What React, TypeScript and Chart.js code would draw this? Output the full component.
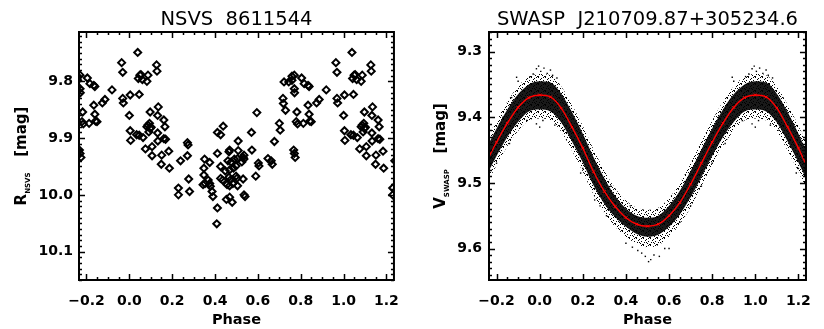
import React, { useEffect, useRef } from 'react';
import { Chart, registerables } from 'chart.js';

Chart.register(...registerables);

// ---------- axis ranges / ticks ----------
const phaseMin = -0.235;
const phaseMax = 1.235;
const phaseTicks = [-0.2, 0.0, 0.2, 0.4, 0.6, 0.8, 1.0, 1.2];
const nsvsYTicks = [9.8, 9.9, 10.0, 10.1];
const nsvsYRange = [9.713, 10.15];
const swaspYTicks = [9.3, 9.4, 9.5, 9.6];
const swaspYRange = [9.27, 9.648];

// ---------- NSVS 8611544 (phase 0..1, shown folded over -0.23..1.23) ----------
const nsvsPhase = [
  0.000, 0.004, 0.004, 0.006, 0.034, 0.039, 0.042, 0.046, 0.046, 0.049,
  0.054, 0.061, 0.064, 0.075, 0.082, 0.082, 0.087, 0.087, 0.091, 0.094,
  0.097, 0.097, 0.102, 0.106, 0.106, 0.127, 0.129, 0.132, 0.132, 0.133,
  0.135, 0.149, 0.151, 0.161, 0.161, 0.166, 0.169, 0.184, 0.187, 0.229,
  0.229, 0.239, 0.271, 0.274, 0.271, 0.277, 0.281, 0.344, 0.348, 0.348,
  0.351, 0.353, 0.368, 0.375, 0.375, 0.378, 0.386, 0.390, 0.408, 0.411,
  0.411, 0.411, 0.426, 0.426, 0.426, 0.435, 0.438, 0.448, 0.453, 0.456,
  0.460, 0.465, 0.465, 0.468, 0.468, 0.468, 0.468, 0.471, 0.475, 0.480,
  0.483, 0.486, 0.490, 0.498, 0.498, 0.502, 0.505, 0.505, 0.508, 0.508,
  0.525, 0.531, 0.531, 0.535, 0.535, 0.535, 0.540, 0.570, 0.572, 0.590,
  0.595, 0.602, 0.605, 0.647, 0.662, 0.667, 0.677, 0.700, 0.704, 0.717,
  0.719, 0.722, 0.729, 0.744, 0.759, 0.759, 0.767, 0.770, 0.774, 0.770,
  0.770, 0.771, 0.779, 0.782, 0.785, 0.804, 0.812, 0.816, 0.834, 0.834,
  0.839, 0.839, 0.842, 0.849, 0.874, 0.886, 0.919, 0.964, 0.969, 0.969,
  0.972,
];
const nsvsMag = [
  9.860, 9.824, 9.887, 9.904, 9.894, 9.749, 9.795, 9.823, 9.895, 9.789,
  9.788, 9.797, 9.899, 9.919, 9.800, 9.880, 9.789, 9.877, 9.889, 9.874,
  9.854, 9.883, 9.881, 9.915, 9.931, 9.771, 9.782, 9.860, 9.891, 9.905,
  9.845, 9.946, 9.930, 9.868, 9.901, 9.880, 9.902, 9.923, 9.953, 9.988,
  10.000, 9.940, 9.908, 9.912, 9.931, 9.972, 9.994, 9.982, 9.953, 9.965,
  9.937, 9.980, 9.974, 9.943, 9.980, 9.985, 9.994, 10.003, 10.051, 9.890,
  9.927, 10.023, 9.894, 9.950, 9.971, 9.974, 9.879, 9.958, 10.008, 9.982,
  9.940, 9.924, 9.969, 9.921, 9.956, 9.984, 10.004, 9.974, 9.942, 10.013,
  9.980, 9.953, 9.937, 9.949, 9.967, 9.971, 9.936, 9.984, 9.905, 9.922,
  9.942, 9.934, 9.972, 9.930, 9.937, 10.000, 10.003, 9.890, 9.921, 9.967,
  9.855, 9.944, 9.949, 9.936, 9.940, 9.946, 9.906, 9.874, 9.886, 9.830,
  9.839, 9.801, 9.851, 9.801, 9.791, 9.798, 9.921, 9.927, 9.934, 9.789,
  9.813, 9.820, 9.871, 9.854, 9.875, 9.794, 9.874, 9.804, 9.807, 9.842,
  9.809, 9.858, 9.870, 9.871, 9.838, 9.832, 9.815, 9.767, 9.784, 9.830,
  9.838,
];

// ---------- SWASP J210709.87+305234.6 (binned, phase 0..1) ----------
const swaspBinPhase = [
  0.00, 0.05, 0.10, 0.15, 0.20, 0.25, 0.30, 0.35, 0.40, 0.45, 0.50,
  0.55, 0.60, 0.65, 0.70, 0.75, 0.80, 0.85, 0.90, 0.95, 1.00,
];
const swaspFit = [
  9.366, 9.369, 9.386, 9.415, 9.447, 9.483, 9.513, 9.536, 9.553, 9.563, 9.566,
  9.563, 9.550, 9.530, 9.502, 9.470, 9.438, 9.409, 9.385, 9.370, 9.366,
];
const swaspCoreUpper = [
  9.345, 9.347, 9.364, 9.392, 9.425, 9.461, 9.493, 9.520, 9.539, 9.550, 9.553,
  9.550, 9.535, 9.512, 9.482, 9.449, 9.417, 9.388, 9.365, 9.350, 9.345,
];
const swaspCoreLower = [
  9.388, 9.391, 9.408, 9.437, 9.469, 9.504, 9.532, 9.552, 9.567, 9.578, 9.582,
  9.579, 9.567, 9.548, 9.522, 9.491, 9.459, 9.430, 9.407, 9.391, 9.388,
];
const swaspHaloUpper = [
  9.334, 9.336, 9.353, 9.381, 9.413, 9.449, 9.481, 9.508, 9.527, 9.538, 9.541,
  9.538, 9.523, 9.500, 9.470, 9.437, 9.405, 9.376, 9.353, 9.338, 9.334,
];
const swaspHaloLower = [
  9.402, 9.405, 9.422, 9.451, 9.483, 9.518, 9.546, 9.567, 9.582, 9.593, 9.598,
  9.595, 9.582, 9.563, 9.537, 9.505, 9.473, 9.444, 9.421, 9.405, 9.402,
];
const swaspOutlierPhase = [
  0.985, 0.995, 0.005, 0.020, 0.035, 0.050, 0.060, 0.970, 0.955, 0.893, 0.900, 0.080,
  0.985, 0.000, 0.015, 0.070, 0.110, 0.940,
  0.190, 0.200, 0.255, 0.280, 0.310, 0.330, 0.420,
  0.400, 0.430, 0.455, 0.473, 0.490, 0.505, 0.515, 0.530, 0.555, 0.580, 0.600,
  0.650, 0.700, 0.750, 0.800, 0.860, 0.830, 0.870,
];
const swaspOutlierMag = [
  9.326, 9.322, 9.330, 9.325, 9.333, 9.328, 9.336, 9.334, 9.338, 9.339, 9.345, 9.340,
  9.410, 9.415, 9.405, 9.412, 9.420, 9.405,
  9.485, 9.478, 9.526, 9.535, 9.550, 9.505, 9.535,
  9.592, 9.598, 9.603, 9.607, 9.612, 9.620, 9.617, 9.610, 9.612, 9.600, 9.600,
  9.560, 9.535, 9.505, 9.470, 9.440, 9.400, 9.370,
];

// ---------- helpers ----------
type Pt = { x: number; y: number };

function foldScatter(ph: number[], v: number[]): Pt[] {
  const out: Pt[] = [];
  for (let i = 0; i < ph.length; i++) {
    for (const k of [-1, 0, 1]) {
      const x = ph[i] + k;
      if (x >= phaseMin - 0.01 && x <= phaseMax + 0.01) out.push({ x, y: v[i] });
    }
  }
  return out;
}

function foldCurve(ph: number[], v: number[]): Pt[] {
  const out: Pt[] = [];
  for (const k of [-1, 0, 1]) {
    for (let i = 0; i < ph.length - 1; i++) out.push({ x: ph[i] + k, y: v[i] });
  }
  out.push({ x: ph[ph.length - 1] + 1, y: v[v.length - 1] });
  return out.filter((p) => p.x >= phaseMin - 0.06 && p.x <= phaseMax + 0.06);
}

const fmt = (v: number) => (v < -1e-9 ? '\u2212' : '') + Math.abs(v).toFixed(1);

const FONT = "'DejaVu Sans', 'Liberation Sans', Arial, sans-serif";

// stipple texture used for the sparse fringe of the dense SWASP point cloud
function makeStipple(): CanvasPattern | string {
  const c = document.createElement('canvas');
  c.width = 7;
  c.height = 7;
  const g = c.getContext('2d');
  if (!g) return 'rgba(0,0,0,0.4)';
  g.fillStyle = '#000';
  const dots = [
    [0, 0], [3, 1], [5, 3], [1, 4], [4, 5], [2, 2], [6, 6], [0, 6], [5, 0], [3, 4],
  ];
  for (const [x, y] of dots) g.fillRect(x, y, 1, 1);
  const p = g.createPattern(c, 'repeat');
  return p || 'rgba(0,0,0,0.4)';
}

const framePlugin = {
  id: 'idlFrame',
  afterDraw(chart: any) {
    const { ctx, chartArea: a, scales } = chart;
    const xs = scales.x;
    const ys = scales.y;
    ctx.save();
    ctx.strokeStyle = '#000';
    ctx.lineWidth = 1.5;
    ctx.beginPath();
    for (let i = -6; i <= 26; i++) {
      const v = i * 0.05;
      if (v < xs.min || v > xs.max) continue;
      const px = Math.round(xs.getPixelForValue(v)) + 0.5;
      const len = i % 4 === 0 ? 6 : 3;
      ctx.moveTo(px, a.bottom);
      ctx.lineTo(px, a.bottom - len);
      ctx.moveTo(px, a.top);
      ctx.lineTo(px, a.top + len);
    }
    const lo = Math.ceil(Math.min(ys.min, ys.max) * 100 - 1e-6);
    const hi = Math.floor(Math.max(ys.min, ys.max) * 100 + 1e-6);
    for (let i = lo; i <= hi; i++) {
      const v = i / 100;
      const py = Math.round(ys.getPixelForValue(v)) + 0.5;
      const len = i % 10 === 0 ? 6 : 3;
      ctx.moveTo(a.left, py);
      ctx.lineTo(a.left + len, py);
      ctx.moveTo(a.right, py);
      ctx.lineTo(a.right - len, py);
    }
    ctx.stroke();
    ctx.lineWidth = 2;
    ctx.strokeRect(a.left, a.top, a.right - a.left, a.bottom - a.top);
    ctx.restore();
  },
};

const textPlugin = {
  id: 'idlText',
  afterDraw(chart: any, _args: any, opts: any) {
    const { ctx, chartArea: a } = chart;
    const cx = (a.left + a.right) / 2;
    const cy = (a.top + a.bottom) / 2;
    ctx.save();
    ctx.fillStyle = '#000';
    // title
    ctx.font = `19.5px ${FONT}`;
    ctx.textAlign = 'center';
    ctx.textBaseline = 'alphabetic';
    ctx.fillText(opts.title, cx, 25);
    // x title
    ctx.font = `bold 14.5px ${FONT}`;
    ctx.fillText('Phase', cx, 324);
    // y title with subscript
    ctx.translate(opts.yTitleX, cy);
    ctx.rotate(-Math.PI / 2);
    ctx.textAlign = 'left';
    const mainFont = `bold 15px ${FONT}`;
    const subFont = `bold 7px ${FONT}`;
    ctx.font = mainFont;
    const w1 = ctx.measureText(opts.yMain).width;
    const w3 = ctx.measureText('   [mag]').width;
    ctx.font = subFont;
    const w2 = ctx.measureText(opts.ySub).width;
    const total = w1 + w2 + w3;
    let x = -total / 2;
    ctx.font = mainFont;
    ctx.fillText(opts.yMain, x, 0);
    x += w1;
    ctx.font = subFont;
    ctx.fillText(opts.ySub, x, 3.5);
    x += w2;
    ctx.font = mainFont;
    ctx.fillText('   [mag]', x, 0);
    ctx.restore();
  },
};

function xScale(pad: number) {
  return {
    type: 'linear',
    min: phaseMin,
    max: phaseMax,
    grid: { display: false, drawTicks: false, tickLength: 0 },
    border: { display: false },
    afterBuildTicks: (s: any) => {
      s.ticks = phaseTicks.map((v) => ({ value: v }));
    },
    afterFit: (s: any) => {
      s.height = pad;
    },
    ticks: {
      padding: 13,
      maxRotation: 0,
      autoSkip: false,
      color: '#000',
      font: { family: FONT, size: 14, weight: 'bold' },
      callback: (v: any) => fmt(Number(v)),
    },
  };
}

function yScale(range: number[], ticks: number[], width: number, padding: number) {
  return {
    type: 'linear',
    reverse: true,
    min: range[0],
    max: range[1],
    grid: { display: false, drawTicks: false, tickLength: 0 },
    border: { display: false },
    afterBuildTicks: (s: any) => {
      s.ticks = ticks.map((v) => ({ value: v }));
    },
    afterFit: (s: any) => {
      s.width = width;
    },
    ticks: {
      padding,
      autoSkip: false,
      color: '#000',
      font: { family: FONT, size: 14, weight: 'bold' },
      callback: (v: any) => fmt(Number(v)),
    },
  };
}

function baseOptions(rightPad: number) {
  return {
    responsive: false,
    animation: false,
    devicePixelRatio: 1,
    layout: { padding: { left: 0, right: rightPad, top: 32, bottom: 0 } },
    events: [],
  };
}

const basePlugins = { legend: { display: false }, tooltip: { enabled: false }, title: { display: false } };

export default function App() {
  const leftRef = useRef<HTMLCanvasElement | null>(null);
  const rightRef = useRef<HTMLCanvasElement | null>(null);

  useEffect(() => {
    const left = new Chart(leftRef.current as HTMLCanvasElement, {
      type: 'scatter',
      data: {
        datasets: [
          {
            data: foldScatter(nsvsPhase, nsvsMag),
            pointStyle: 'rectRot',
            pointRadius: 3.5,
            pointBorderWidth: 2,
            pointBorderColor: '#000',
            pointBackgroundColor: 'rgba(255,255,255,0)',
            showLine: false,
          },
        ],
      },
      options: {
        ...baseOptions(6),
        scales: {
          x: xScale(49),
          y: yScale(nsvsYRange, nsvsYTicks, 79, 6),
        },
        plugins: {
          ...basePlugins,
          idlText: { title: 'NSVS  8611544', yMain: 'R', ySub: 'NSVS', yTitleX: 26 },
        },
      } as any,
      plugins: [framePlugin, textPlugin],
    });

    const stipple = makeStipple();
    const curve = (vals: number[]) => foldCurve(swaspBinPhase, vals);
    const edge = {
      showLine: true,
      borderWidth: 0,
      borderColor: 'rgba(0,0,0,0)',
      pointRadius: 0,
      cubicInterpolationMode: 'monotone',
    };
    const right = new Chart(rightRef.current as HTMLCanvasElement, {
      type: 'scatter',
      data: {
        datasets: [
          {
            data: curve(swaspFit),
            showLine: true,
            borderColor: '#ff0000',
            borderWidth: 1.4,
            pointStyle: 'crossRot',
            pointRadius: 2,
            pointBorderColor: '#ff0000',
            pointBorderWidth: 1,
            cubicInterpolationMode: 'monotone',
          },
          {
            data: foldScatter(swaspOutlierPhase, swaspOutlierMag),
            pointStyle: 'rect',
            pointRadius: 1,
            pointBorderWidth: 0,
            pointBackgroundColor: '#000',
            showLine: false,
          },
          { ...edge, data: curve(swaspCoreUpper) },
          { ...edge, data: curve(swaspCoreLower), fill: '-1', backgroundColor: 'rgba(0,0,0,0.9)' },
          { ...edge, data: curve(swaspHaloUpper) },
          { ...edge, data: curve(swaspHaloLower), fill: '-1', backgroundColor: stipple },
        ],
      },
      options: {
        ...baseOptions(7),
        scales: {
          x: xScale(49),
          y: yScale(swaspYRange, swaspYTicks, 77, 7),
        },
        plugins: {
          ...basePlugins,
          filler: { propagate: false },
          idlText: { title: 'SWASP  J210709.87+305234.6', yMain: 'V', ySub: 'SWASP', yTitleX: 33 },
        },
      } as any,
      plugins: [framePlugin, textPlugin],
    });

    return () => {
      left.destroy();
      right.destroy();
    };
  }, []);

  return (
    <div style={{ position: 'absolute', left: 0, top: 0, width: 824, height: 329, background: '#fff' }}>
      <canvas
        ref={leftRef}
        width={412}
        height={329}
        style={{ position: 'absolute', left: 0, top: 0, width: 412, height: 329 }}
      />
      <canvas
        ref={rightRef}
        width={412}
        height={329}
        style={{ position: 'absolute', left: 412, top: 0, width: 412, height: 329 }}
      />
    </div>
  );
}
